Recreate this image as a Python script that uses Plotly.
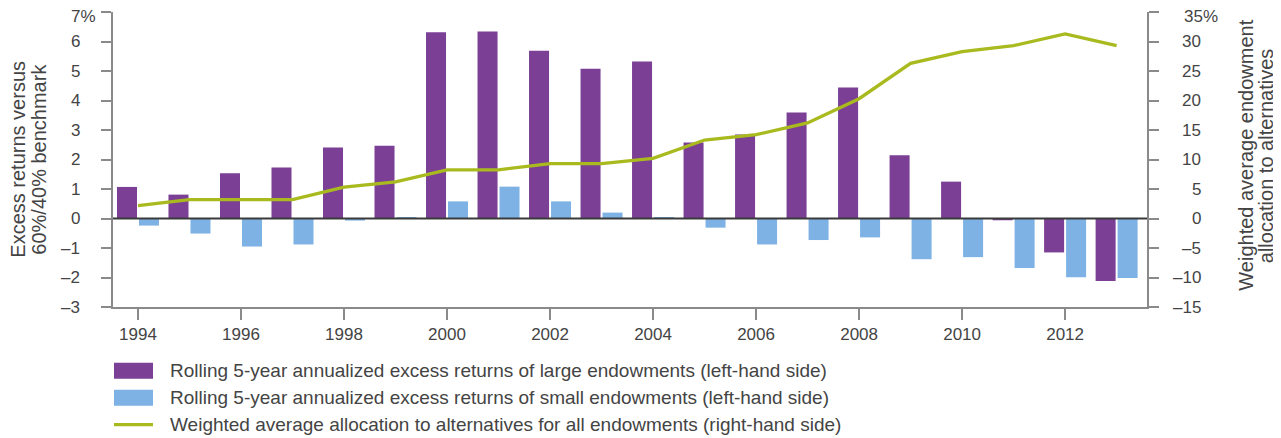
import plotly.graph_objects as go

years = list(range(1994, 2014))
large_endow = [1.07, 0.81, 1.53, 1.73, 2.41, 2.47, 6.31, 6.34, 5.69, 5.08,
               5.32, 2.58, 2.85, 3.59, 4.44, 2.14, 1.25, -0.06, -1.15, -2.12]
small_endow = [-0.24, -0.51, -0.95, -0.88, -0.07, 0.03, 0.58, 1.08, 0.58, 0.20,
               0.03, -0.31, -0.88, -0.73, -0.64, -1.38, -1.31, -1.68, -1.99, -2.02]
alt_alloc = [2.2, 3.2, 3.2, 3.2, 5.3, 6.2, 8.25, 8.25, 9.3, 9.3,
             10.2, 13.3, 14.2, 16.2, 20.3, 26.3, 28.3, 29.3, 31.3, 29.3]

left_ticks = list(range(-3, 8))
left_labels = ["–3", "–2", "–1", "0", "1", "2", "3", "4", "5", "6", "7%"]
right_ticks = list(range(-15, 40, 5))
right_labels = ["–15", "–10", "–5", "0", "5", "10", "15", "20", "25", "30", "35%"]
year_ticks = list(range(1994, 2014, 2))

legend_names = [
    "Rolling 5-year annualized excess returns of large endowments (left-hand side)",
    "Rolling 5-year annualized excess returns of small endowments (left-hand side)",
    "Weighted average allocation to alternatives for all endowments (right-hand side)",
]
left_title = ["Excess returns versus", "60%/40% benchmark"]
right_title = ["Weighted average endowment", "allocation to alternatives"]

PURPLE = "#7B3F96"
BLUE = "#7EB2E4"
GREEN = "#A9BA1E"
TXT = "#444444"
AX = "#8a8a8a"
FONT = "Liberation Sans, Arial, sans-serif"

fig = go.Figure()
fig.add_trace(go.Bar(x=years, y=large_endow, marker_color=PURPLE, marker_line_width=0,
                     name=legend_names[0]))
fig.add_trace(go.Bar(x=years, y=small_endow, marker_color=BLUE, marker_line_width=0,
                     name=legend_names[1]))
fig.add_trace(go.Scatter(x=years, y=alt_alloc, mode="lines", yaxis="y2",
                         line=dict(color=GREEN, width=3.3), name=legend_names[2]))

# page has an 8px body margin, so figure coords = page coords - 8
fig.update_layout(
    width=1281, height=438,
    margin=dict(l=105, r=142, t=4.3, b=138.7, autoexpand=False),
    paper_bgcolor="white", plot_bgcolor="white",
    barmode="group", bargap=0.146, bargroupgap=0.09,
    showlegend=False,
    font=dict(family=FONT, size=17, color=TXT),
    xaxis=dict(range=[1993.515, 2013.59], tickvals=year_ticks,
               ticktext=[str(y) for y in year_ticks], automargin=False,
               ticks="outside", ticklen=11, tickcolor=AX, tickwidth=1.5,
               showline=True, linecolor=AX, linewidth=1.5,
               showgrid=False, zeroline=False,
               tickfont=dict(size=17, color=TXT)),
    yaxis=dict(range=[-3, 7], tickvals=left_ticks, showticklabels=False,
               automargin=False,
               ticks="outside", ticklen=10, tickcolor=AX, tickwidth=1.5,
               showline=True, linecolor=AX, linewidth=1.5,
               showgrid=False, zeroline=False),
    yaxis2=dict(range=[-15, 35], tickvals=right_ticks, showticklabels=False,
                overlaying="y", side="right", automargin=False,
                ticks="outside", ticklen=10, tickcolor=AX, tickwidth=1.5,
                showline=True, linecolor=AX, linewidth=1.5,
                showgrid=False, zeroline=False),
)

# zero line across the plot
fig.add_shape(type="line", xref="paper", yref="y", x0=0, x1=1, y0=0, y1=0,
              line=dict(color="#3a3a3a", width=2), layer="above")

# page-pixel -> paper helpers (plot area spans page x 113..1147, y 12.3..307.3)
def px_x(p):
    return (p - 113) / 1034

def px_y(p):
    return (307.3 - p) / 295

# y tick labels: digits right-aligned, percent sign hanging on the top label
for v, t in zip(left_ticks, left_labels):
    if t.endswith("%"):
        fig.add_annotation(text=t, xref="paper", yref="paper",
                           x=px_x(98), y=px_y(16.8), xanchor="right", yanchor="middle",
                           showarrow=False, font=dict(size=17, color=TXT))
    else:
        fig.add_annotation(text=t, xref="paper", yref="y",
                           x=px_x(82), y=v, xanchor="right", yanchor="middle",
                           showarrow=False, font=dict(size=17, color=TXT))
for v, t in zip(right_ticks, right_labels):
    if t.endswith("%"):
        fig.add_annotation(text=t, xref="paper", yref="paper",
                           x=px_x(1181.5), y=px_y(16.8), xanchor="left", yanchor="middle",
                           showarrow=False, font=dict(size=17, color=TXT))
    else:
        fig.add_annotation(text=t, xref="paper", yref="y2",
                           x=px_x(1203), y=v, xanchor="right", yanchor="middle",
                           showarrow=False, font=dict(size=17, color=TXT))

# axis titles
for i, t in enumerate(left_title):
    fig.add_annotation(text=t, xref="paper", yref="paper",
                       x=px_x(18 + 21 * i), y=px_y(160), textangle=-90,
                       showarrow=False, xanchor="center", yanchor="middle",
                       font=dict(size=20, color=TXT))
for i, t in enumerate(right_title):
    fig.add_annotation(text=t, xref="paper", yref="paper",
                       x=px_x(1246 + 19.5 * i), y=px_y(156), textangle=-90,
                       showarrow=False, xanchor="center", yanchor="middle",
                       font=dict(size=20, color=TXT))

# custom legend
legend_rows = [371, 398, 425]
legend_colors = [PURPLE, BLUE, GREEN]
for i, (name, col, cy) in enumerate(zip(legend_names, legend_colors, legend_rows)):
    if i < 2:
        fig.add_shape(type="rect", xref="paper", yref="paper",
                      x0=px_x(114), x1=px_x(153), y0=px_y(cy - 8), y1=px_y(cy + 8),
                      fillcolor=col, line=dict(width=0))
    else:
        fig.add_shape(type="line", xref="paper", yref="paper",
                      x0=px_x(114), x1=px_x(153), y0=px_y(cy), y1=px_y(cy),
                      line=dict(color=col, width=3.3))
    fig.add_annotation(text=name, xref="paper", yref="paper",
                       x=px_x(168), y=px_y(cy), xanchor="left", yanchor="middle",
                       showarrow=False, font=dict(size=19, color=TXT))

fig.write_html("out.html")
